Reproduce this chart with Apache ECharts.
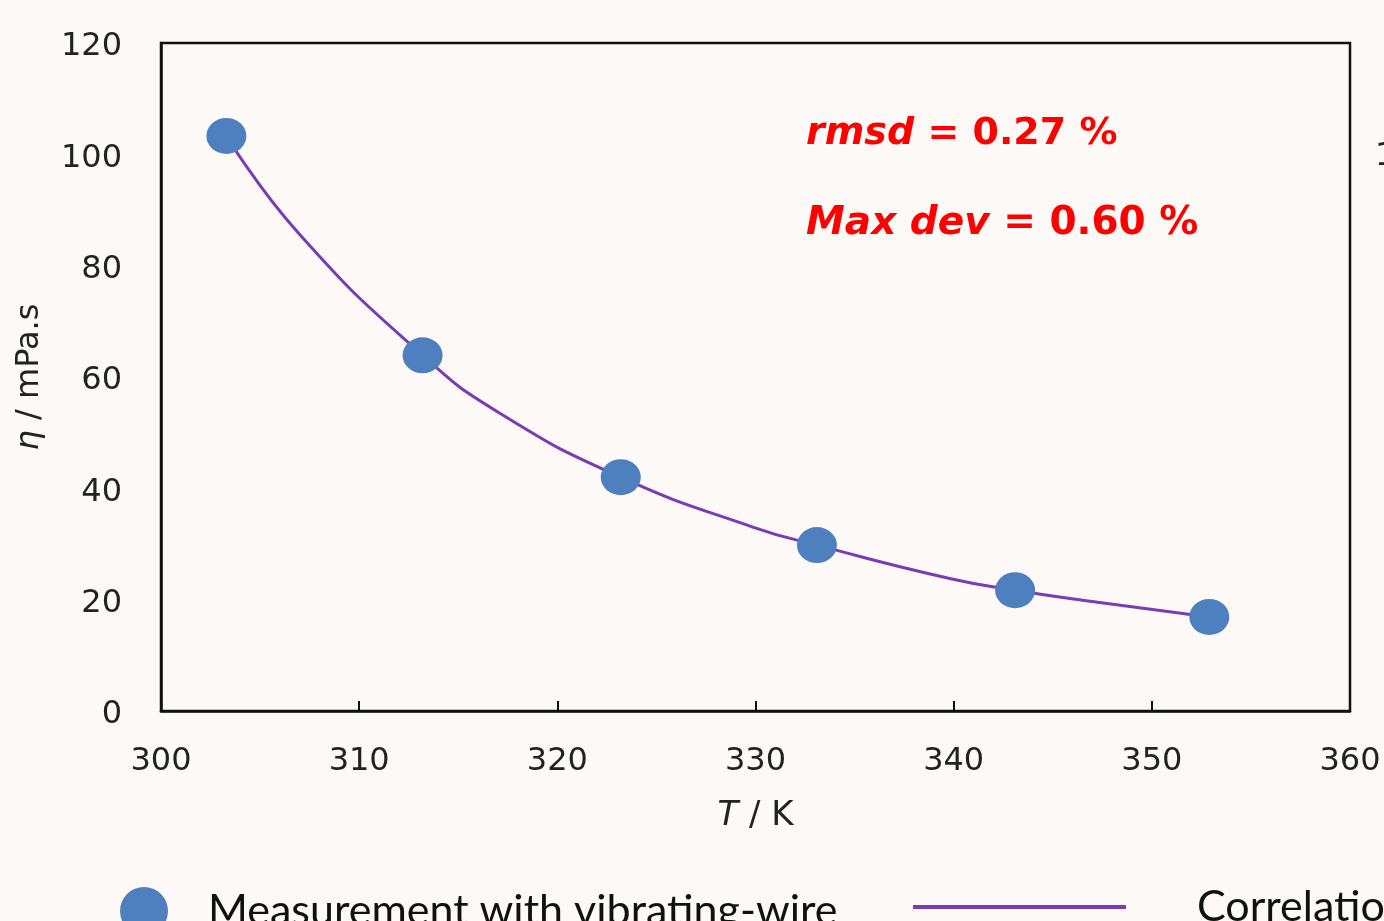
<!DOCTYPE html>
<html>
<head>
<meta charset="utf-8">
<script src="https://cdn.jsdelivr.net/npm/echarts@6/dist/echarts.min.js"></script>
<style>
html,body{margin:0;padding:0;background:#fdf9f6;}
#chart{width:1384px;height:921px;}
</style>
</head>
<body>
<div id="chart"></div>
<script>
// Data
var measT = [303.3, 313.2, 323.2, 333.1, 343.1, 352.9];
var measEta = [103.3, 63.9, 42.0, 29.8, 21.7, 16.9];
var corrT = [303.3, 306.9, 313.2, 317.1, 323.2, 329.9, 333.1, 339.8, 343.1, 346.5, 352.9];
var corrEta = [103.3, 86.0, 63.9, 53.5, 42.0, 33.0, 29.8, 23.8, 21.7, 19.9, 16.9];
var xTicks = [300, 310, 320, 330, 340, 350, 360];
var yTicks = [0, 20, 40, 60, 80, 100, 120];
var seriesNames = ['Measurement with vibrating-wire', 'Correlation'];
var annotations = ['rmsd', ' = 0.27 %', 'Max dev', ' = 0.60 %'];

var measData = measT.map(function (t, i) { return [t, measEta[i]]; });
var corrData = corrT.map(function (t, i) { return [t, corrEta[i]]; });

var chart = echarts.init(document.getElementById('chart'));
var tickFont = 'DejaVu Sans';
var annFont = 'DejaVu Sans';
var legFont = 'Lato';
chart.setOption({
  backgroundColor: '#fdf9f6',
  animation: false,
  grid: {
    left: 161, right: 34, top: 43, bottom: 210,
    show: true, borderColor: '#111', borderWidth: 2.5, backgroundColor: 'transparent'
  },
  xAxis: {
    type: 'value', min: xTicks[0], max: xTicks[xTicks.length - 1], interval: 10,
    axisLine: { lineStyle: { color: '#111', width: 2.5 } },
    axisTick: { show: true, inside: true, length: 10, lineStyle: { color: '#111', width: 2 } },
    splitLine: { show: false },
    axisLabel: { color: '#222', fontFamily: tickFont, fontSize: 32, margin: 35 },
    name: '{i|T} / K', nameLocation: 'middle', nameGap: 88,
    nameTextStyle: {
      color: '#222', fontFamily: tickFont, fontSize: 34,
      rich: { i: { fontStyle: 'italic', fontFamily: tickFont, fontSize: 34, color: '#222' } }
    }
  },
  yAxis: {
    type: 'value', min: yTicks[0], max: yTicks[yTicks.length - 1], interval: 20,
    axisLine: { show: true, lineStyle: { color: '#111', width: 2.5 } },
    axisTick: { show: false },
    splitLine: { show: false },
    axisLabel: { color: '#222', fontFamily: tickFont, fontSize: 32, margin: 39, verticalAlign: 'top', lineHeight: 8 },
    name: '{i|η} / mPa.s', nameLocation: 'middle', nameGap: 115, nameRotate: 90,
    nameTextStyle: {
      color: '#222', fontFamily: tickFont, fontSize: 32,
      rich: { i: { fontStyle: 'italic', fontFamily: tickFont, fontSize: 32, color: '#222' } }
    }
  },
  legend: [
    {
      data: [{ name: seriesNames[0], icon: 'circle' }],
      left: 120, top: 887, padding: 0, itemWidth: 48, itemHeight: 48,
      textStyle: { fontFamily: legFont, fontSize: 43, lineHeight: 48, color: '#111', padding: [0, 0, 0, 35] }
    },
    {
      data: [{ name: seriesNames[1], icon: 'rect' }],
      left: 913, top: 883, padding: 0, itemWidth: 213, itemHeight: 4,
      textStyle: { fontFamily: legFont, fontSize: 43, lineHeight: 48, color: '#111', padding: [0, 0, 0, 66] }
    }
  ],
  series: [
    {
      name: seriesNames[1], type: 'line', data: corrData, smooth: 0.5,
      showSymbol: false, symbol: 'none',
      lineStyle: { color: '#7a3cb4', width: 3 }, itemStyle: { color: '#7a3cb4' }, z: 2
    },
    {
      name: seriesNames[0], type: 'scatter', data: measData,
      symbol: 'circle', symbolSize: [40, 36],
      itemStyle: { color: '#4e80bf', opacity: 1 }, z: 3
    }
  ],
  graphic: [
    {
      type: 'text', left: 806, top: 115,
      style: {
        text: '{i|' + annotations[0] + '}{b|' + annotations[1] + '}',
        rich: {
          i: { fontFamily: annFont, fontWeight: 'bold', fontStyle: 'italic', fontSize: 38, fill: '#ff0000', color: '#ff0000' },
          b: { fontFamily: annFont, fontWeight: 'bold', fontSize: 38, fill: '#ff0000', color: '#ff0000' }
        }
      }
    },
    {
      type: 'text', left: 806, top: 204,
      style: {
        text: '{i|' + annotations[2] + '}{b|' + annotations[3] + '}',
        rich: {
          i: { fontFamily: annFont, fontWeight: 'bold', fontStyle: 'italic', fontSize: 39, fill: '#ff0000', color: '#ff0000' },
          b: { fontFamily: annFont, fontWeight: 'bold', fontSize: 39, fill: '#ff0000', color: '#ff0000' }
        }
      }
    },
    {
      type: 'text', left: 1375, top: 141,
      style: { text: '100', fontFamily: tickFont, fontSize: 32, fill: '#222' }
    }
  ]
});
</script>
</body>
</html>
